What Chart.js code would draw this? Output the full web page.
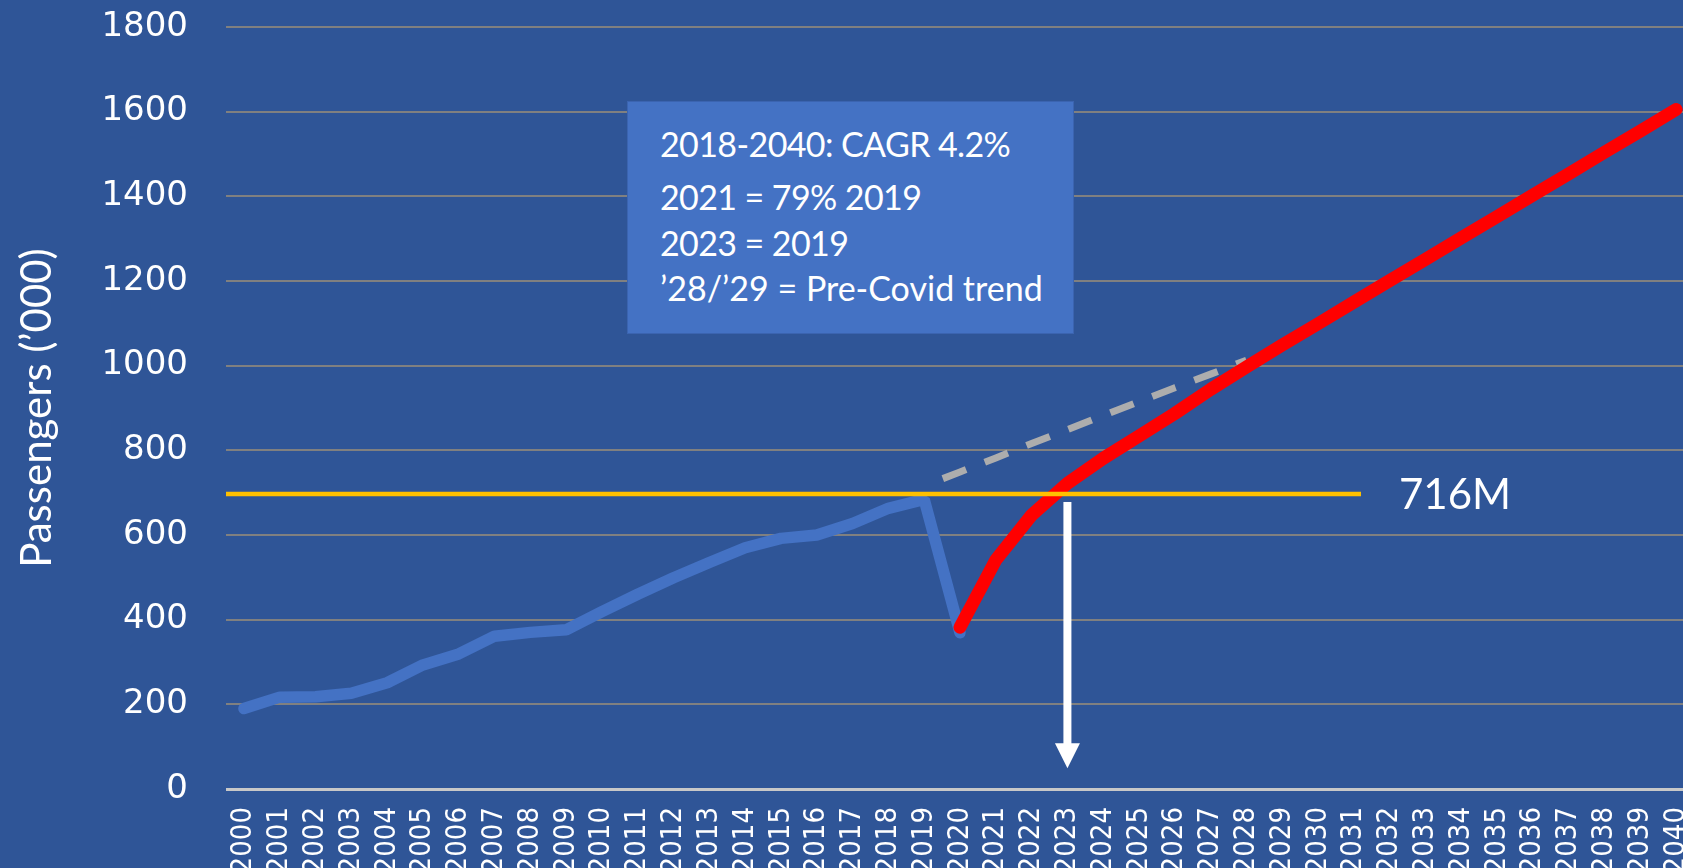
<!DOCTYPE html>
<html>
<head>
<meta charset="utf-8">
<title>Passengers forecast</title>
<script src="https://cdn.jsdelivr.net/npm/chart.js@4.4.1/dist/chart.umd.min.js"></script>
<style>
    html, body { margin: 0; padding: 0; width: 1683px; height: 868px; overflow: hidden; background: #2F5597; }
    #wrap { position: absolute; left: 0; top: 0; width: 1694px; height: 880px; }
    .txt { position: absolute; color: #fff; font-family: Lato, sans-serif; white-space: nowrap; line-height: 1; }
    .tight { letter-spacing: -0.6px; }
    #box { position: absolute; left: 627px; top: 101px; width: 447px; height: 233px; background: #4472C4; border: 1px solid #3B64B0; box-sizing: border-box; }
</style>
</head>
<body>
<div id="wrap"><canvas id="chart" width="1694" height="880"></canvas></div>

<div id="box"></div>
<div class="txt tight" style="left:660px; top:127px; font-size:34px;">2018-2040:&nbsp;CAGR 4.2%</div>
<div class="txt tight" style="left:660px; top:180px; font-size:34px;">2021 = 79% 2019</div>
<div class="txt tight" style="left:660px; top:226px; font-size:34px;">2023 = 2019</div>
<div class="txt" style="left:660px; top:271px; font-size:34px;">’28/’29 = Pre-Covid trend</div>
<div class="txt" style="left:1399px; top:472px; font-size:42px;">716M</div>

<script>
// ============================================================================
// Data
// ============================================================================
const years = ['2000', '2001', '2002', '2003', '2004', '2005', '2006', '2007', '2008', '2009',
               '2010', '2011', '2012', '2013', '2014', '2015', '2016', '2017', '2018', '2019',
               '2020', '2021', '2022', '2023', '2024', '2025', '2026', '2027', '2028', '2029',
               '2030', '2031', '2032', '2033', '2034', '2035', '2036', '2037', '2038', '2039', '2040'];

const yTicks = [0, 200, 400, 600, 800, 1000, 1200, 1400, 1600, 1800];

// actuals 2000-2020
const actual = [190, 217, 218, 226, 251, 293, 319, 361, 370, 376,
                419, 460, 499, 535, 570, 592, 600, 627, 663, 684, 369];

// recovery forecast 2020-2040
const forecast = [382, 541, 647, 722, 781, 834, 887, 944, 997, 1049,
                  1099, 1150, 1201, 1251, 1302, 1352, 1403, 1453, 1504, 1554, 1605];

// pre-covid trend 2019-2028
const preCovid = [716, 749, 782, 816, 849, 882, 915, 948, 980, 1013];

// 2019 level line and the year it is reached again
const level2019 = 697;
const levelLineEnd = 31.2;   // category index where the line stops
const recoveryYear = '2023';
const arrowFrom = 678;
const arrowTo = 49;

// place a series on the full year axis, starting at a given year
function placeAt(startYear, values) {
    const start = years.indexOf(startYear);
    return years.map((y, i) => (i >= start && i - start < values.length) ? values[i - start] : null);
}

// ============================================================================
// Overlay: 2019 level line + arrow down to the recovery year
// ============================================================================
const overlayPlugin = {
    id: 'overlay',
    afterDatasetsDraw(chart) {
        const { ctx, chartArea, scales: { x, y } } = chart;
        ctx.save();

        // yellow level line
        const ly = y.getPixelForValue(level2019);
        ctx.strokeStyle = '#FFC000';
        ctx.lineWidth = 4.5;
        ctx.beginPath();
        ctx.moveTo(chartArea.left, ly);
        ctx.lineTo(x.getPixelForValue(levelLineEnd), ly);
        ctx.stroke();

        // white arrow
        const ax = x.getPixelForValue(years.indexOf(recoveryYear));
        const top = y.getPixelForValue(arrowFrom);
        const tip = y.getPixelForValue(arrowTo);
        const headH = 25, headW = 25;
        ctx.fillStyle = '#FFFFFF';
        ctx.fillRect(ax - 4, top, 8, tip - headH - top + 1);
        ctx.beginPath();
        ctx.moveTo(ax - headW / 2, tip - headH);
        ctx.lineTo(ax + headW / 2, tip - headH);
        ctx.lineTo(ax, tip);
        ctx.closePath();
        ctx.fill();

        ctx.restore();
    }
};

// ============================================================================
// Chart
// ============================================================================
new Chart(document.getElementById('chart'), {
    type: 'line',
    data: {
        labels: years,
        datasets: [
            {
                label: 'Forecast',
                data: placeAt('2020', forecast),
                borderColor: '#FF0000',
                borderWidth: 13,
                borderCapStyle: 'round',
                borderJoinStyle: 'round',
                order: 0
            },
            {
                label: 'Actual',
                data: placeAt('2000', actual),
                borderColor: '#4472C4',
                borderWidth: 11.5,
                borderCapStyle: 'round',
                borderJoinStyle: 'bevel',
                order: 1
            },
            {
                label: 'Pre-Covid trend',
                data: placeAt('2019', preCovid),
                borderColor: '#ADADAD',
                borderWidth: 7,
                borderDash: [25, 20],
                borderDashOffset: 25,
                order: 2
            }
        ]
    },
    options: {
        responsive: false,
        animation: false,
        layout: { padding: { top: 27, right: 0, bottom: 0, left: 0 } },
        elements: { point: { radius: 0 }, line: { tension: 0 } },
        plugins: { legend: { display: false }, tooltip: { enabled: false } },
        scales: {
            x: {
                offset: true,
                grid: { display: false, drawTicks: false },
                border: { display: false },
                ticks: {
                    color: '#FFFFFF',
                    font: { family: '"DejaVu Sans Condensed", "DejaVu Sans"', size: 29 },
                    minRotation: 90,
                    maxRotation: 90,
                    autoSkip: false,
                    padding: 18
                },
                afterFit: (s) => {
                    s.height = 91;
                    s.paddingLeft = 0; s.paddingRight = 0;
                    s.paddingTop = 0; s.paddingBottom = 0;
                }
            },
            y: {
                min: yTicks[0],
                max: yTicks[yTicks.length - 1],
                afterBuildTicks: (s) => { s.ticks = yTicks.map(v => ({ value: v })); },
                ticks: {
                    color: '#FFFFFF',
                    font: { family: '"DejaVu Sans"', size: 34 },
                    padding: 38,
                    callback: (v) => String(v)
                },
                grid: {
                    drawTicks: false,
                    color: (c) => c.tick && c.tick.value === 0 ? '#C8C8C8' : '#808080',
                    lineWidth: (c) => c.tick && c.tick.value === 0 ? 3 : 2
                },
                border: { display: false },
                title: {
                    display: true,
                    text: 'Passengers (’000)',
                    color: '#FFFFFF',
                    font: { family: 'Lato', size: 42 },
                    padding: { top: 12, bottom: 0 }
                },
                afterFit: (s) => {
                    s.width = 226;
                    s.paddingLeft = 0; s.paddingRight = 0;
                    s.paddingTop = 0; s.paddingBottom = 0;
                }
            }
        }
    },
    plugins: [overlayPlugin]
});
</script>
</body>
</html>
